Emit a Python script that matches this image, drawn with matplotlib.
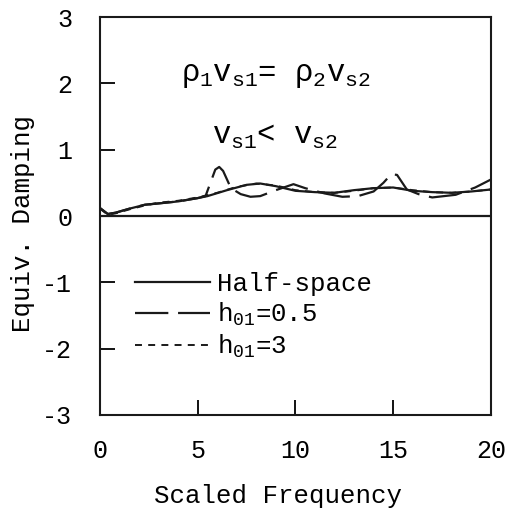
import numpy as np
import matplotlib
matplotlib.use("Agg")
import matplotlib.pyplot as plt

plt.rcParams['font.family'] = ['Liberation Mono', 'DejaVu Sans Mono']
plt.rcParams['mathtext.fontset'] = 'custom'
plt.rcParams['mathtext.rm'] = 'Liberation Mono'
plt.rcParams['mathtext.it'] = 'Liberation Mono'
plt.rcParams['lines.scale_dashes'] = False
plt.rcParams['axes.unicode_minus'] = False

# Half-space curve
freq_half = [0, 0.4, 0.8, 1.5, 2.3, 3, 4, 5, 5.5, 6.5, 7.5, 8.2, 9, 10,
             11, 12, 13, 14, 15, 16, 17, 18, 19, 20]
damp_half = [0.12, 0.03, 0.05, 0.11, 0.17, 0.19, 0.22, 0.27, 0.30, 0.39, 0.47, 0.49, 0.45, 0.38,
             0.36, 0.35, 0.39, 0.42, 0.43, 0.38, 0.36, 0.35, 0.37, 0.40]

# h01 = 0.5 (long dash)
freq_h05 = [0, 0.4, 0.8, 1.5, 2.3, 3, 4, 5, 5.4, 5.9, 6.1, 6.3, 6.7, 7.2, 7.7, 8.2,
            9.0, 9.9, 10.5, 11.5, 12.4, 13.2, 14.0, 14.5, 14.9, 15.2, 15.7, 16.3,
            17.0, 18.2, 19.2, 20]
damp_h05 = [0.12, 0.03, 0.05, 0.11, 0.17, 0.19, 0.22, 0.27, 0.30, 0.70, 0.74, 0.68, 0.42, 0.33, 0.29, 0.30,
            0.39, 0.48, 0.42, 0.34, 0.29, 0.30, 0.37, 0.50, 0.63, 0.62, 0.40, 0.33,
            0.28, 0.32, 0.43, 0.55]

# h01 = 3 (short dash)
freq_h3 = [0, 0.4, 0.8, 1.5, 2.3, 3, 4, 5, 6, 7, 8, 9, 10,
           11, 12, 13, 14, 15, 16, 17, 18, 19, 20]
damp_h3 = [0.11, 0.02, 0.04, 0.10, 0.16, 0.20, 0.23, 0.28, 0.35, 0.44, 0.49, 0.46, 0.39,
           0.36, 0.35, 0.38, 0.42, 0.43, 0.39, 0.36, 0.35, 0.37, 0.40]

xticks = [0, 5, 10, 15, 20]
yticks = [-3, -2, -1, 0, 1, 2, 3]

fig = plt.figure(figsize=(5.05, 5.18), dpi=100)
ax = fig.add_axes([0.198, 0.199, 0.774, 0.768])

ax.axhline(0, color='#1a1a1a', lw=1.6)
ax.plot(freq_half, damp_half, color='#1a1a1a', lw=1.6, label='Half-space')
ax.plot(freq_h05, damp_h05, color='#1a1a1a', lw=1.6, linestyle=(0, (24, 7)),
        label=r'h$_{01}$=0.5')
ax.plot(freq_h3, damp_h3, color='#1a1a1a', lw=1.4, linestyle=(0, (5, 4.5)),
        label=r'h$_{01}$=3')

ax.set_xlim(0, 20)
ax.set_ylim(-3, 3)
ax.set_xticks(xticks)
ax.set_yticks(yticks)
ax.tick_params(direction='in', length=11, width=1.3, labelsize=18,
               top=False, right=False)
ax.tick_params(axis='x', pad=17)
ax.tick_params(axis='y', pad=20)
for s in ax.spines.values():
    s.set_linewidth(1.5)
    s.set_color('#1a1a1a')

ax.set_xlabel('Scaled Frequency', fontsize=18.5)
ax.set_ylabel('Equiv. Damping', fontsize=18.5)
ax.xaxis.set_label_coords(0.455, -0.173)
ax.yaxis.set_label_coords(-0.165, 0.482)

ax.text(0.45, 0.854, r'$\rho_1 v_{s1}$= $\rho_2 v_{s2}$', transform=ax.transAxes,
        ha='center', va='center', fontsize=22)
ax.text(0.448, 0.70, r'$v_{s1}$< $v_{s2}$', transform=ax.transAxes,
        ha='center', va='center', fontsize=22)

ax.legend(loc='upper left', bbox_to_anchor=(0.09, 0.36), frameon=False,
          fontsize=18.5, handlelength=2.9, handletextpad=0.3, labelspacing=0.2,
          borderpad=0, borderaxespad=0)

fig.savefig('out.png', dpi=100)
